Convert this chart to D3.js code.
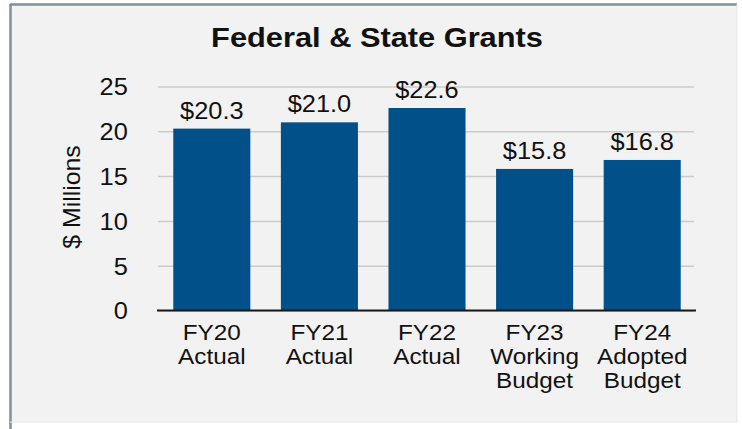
<!DOCTYPE html>
<html>
<head>
<meta charset="utf-8">
<script src="https://cdn.jsdelivr.net/npm/d3@7"></script>
<style>
  html, body { margin: 0; padding: 0; background: #ffffff; }
  svg { display: block; font-family: "Liberation Sans", Arial, Helvetica, sans-serif; }
</style>
</head>
<body>
<svg id="chart" width="742" height="429"></svg>
<script>
// Federal & State Grants, $ millions by fiscal year
const categories = [
  ["FY20", "Actual"],
  ["FY21", "Actual"],
  ["FY22", "Actual"],
  ["FY23", "Working", "Budget"],
  ["FY24", "Adopted", "Budget"]
];
const values = [20.3, 21.0, 22.6, 15.8, 16.8];
const yTicks = [0, 5, 10, 15, 20, 25];
const title = "Federal & State Grants";
const yTitle = "$ Millions";

const svg = d3.select("#chart");
const plot = { left: 158, right: 696, top: 86.5, bottom: 310.5 };
const stretch = 1.08; // slightly wide lettering

// Panel frame
svg.append("rect")
  .attr("x", 10).attr("y", 4).attr("width", 727).attr("height", 418)
  .attr("fill", "#f2f2f2");
svg.append("line").attr("x1", 10).attr("x2", 737).attr("y1", 4.5).attr("y2", 4.5)
  .attr("stroke", "#7e9199").attr("stroke-width", 2.5);
svg.append("line").attr("x1", 10.5).attr("x2", 10.5).attr("y1", 4).attr("y2", 429)
  .attr("stroke", "#7e9199").attr("stroke-width", 2.5);
svg.append("line").attr("x1", 737).attr("x2", 737).attr("y1", 4).attr("y2", 422)
  .attr("stroke", "#e4e6e8").attr("stroke-width", 1);
svg.append("line").attr("x1", 10).attr("x2", 737).attr("y1", 422).attr("y2", 422)
  .attr("stroke", "#e4e6e8").attr("stroke-width", 1);

const x = d3.scaleBand()
  .domain(d3.range(values.length))
  .range([plot.left, plot.right])
  .paddingInner(0.284)
  .paddingOuter(0.142);

const y = d3.scaleLinear()
  .domain([0, 25])
  .range([plot.bottom, plot.top]);

// Gridlines and y tick labels
const yAxis = d3.axisLeft(y)
  .tickValues(yTicks)
  .tickSize(-(plot.right - plot.left - 2))
  .tickPadding(28)
  .tickFormat(d3.format("d"));

const gy = svg.append("g")
  .attr("transform", `translate(${plot.left},0)`)
  .call(yAxis);
gy.select(".domain").remove();
gy.selectAll(".tick line")
  .attr("stroke", "#cbcbcb")
  .attr("stroke-width", 1.5);
gy.selectAll(".tick text")
  .attr("fill", "#111")
  .attr("font-size", 23.5)
  .attr("dy", "0.36em")
  .attr("transform", `scale(${stretch},1)`);

// Bars
svg.append("g").selectAll("rect")
  .data(values)
  .join("rect")
  .attr("x", (d, i) => x(i))
  .attr("width", x.bandwidth())
  .attr("y", d => y(d))
  .attr("height", d => y(0) - y(d))
  .attr("fill", "#01508a");

// Value labels
svg.append("g").selectAll("text")
  .data(values)
  .join("text")
  .attr("transform", (d, i) => `translate(${x(i) + x.bandwidth() / 2},${y(d) - 10}) scale(${stretch},1)`)
  .attr("text-anchor", "middle")
  .attr("font-size", 23.5)
  .attr("fill", "#111")
  .text(d => "$" + d.toFixed(1));

// Category axis baseline
svg.append("line")
  .attr("x1", plot.left - 1).attr("x2", plot.right)
  .attr("y1", y(0)).attr("y2", y(0))
  .attr("stroke", "#1a1a1a").attr("stroke-width", 2);

// Category labels
const cat = svg.append("g").selectAll("text")
  .data(categories)
  .join("text")
  .attr("transform", (d, i) => `translate(${x(i) + x.bandwidth() / 2},340) scale(${stretch},1)`)
  .attr("text-anchor", "middle")
  .attr("font-size", 22.5)
  .attr("fill", "#111");
cat.selectAll("tspan")
  .data(d => d)
  .join("tspan")
  .attr("x", 0)
  .attr("dy", (d, j) => j === 0 ? 0 : 24)
  .text(d => d);

// Y axis title
svg.append("text")
  .attr("transform", `translate(80,197) rotate(-90) scale(${stretch},1)`)
  .attr("text-anchor", "middle")
  .attr("font-size", 23)
  .attr("fill", "#111")
  .text(yTitle);

// Chart title
svg.append("text")
  .attr("transform", `translate(377,46.5) scale(${stretch},1)`)
  .attr("text-anchor", "middle")
  .attr("font-size", 28.5)
  .attr("font-weight", "bold")
  .attr("fill", "#111")
  .text(title);
</script>
</body>
</html>
